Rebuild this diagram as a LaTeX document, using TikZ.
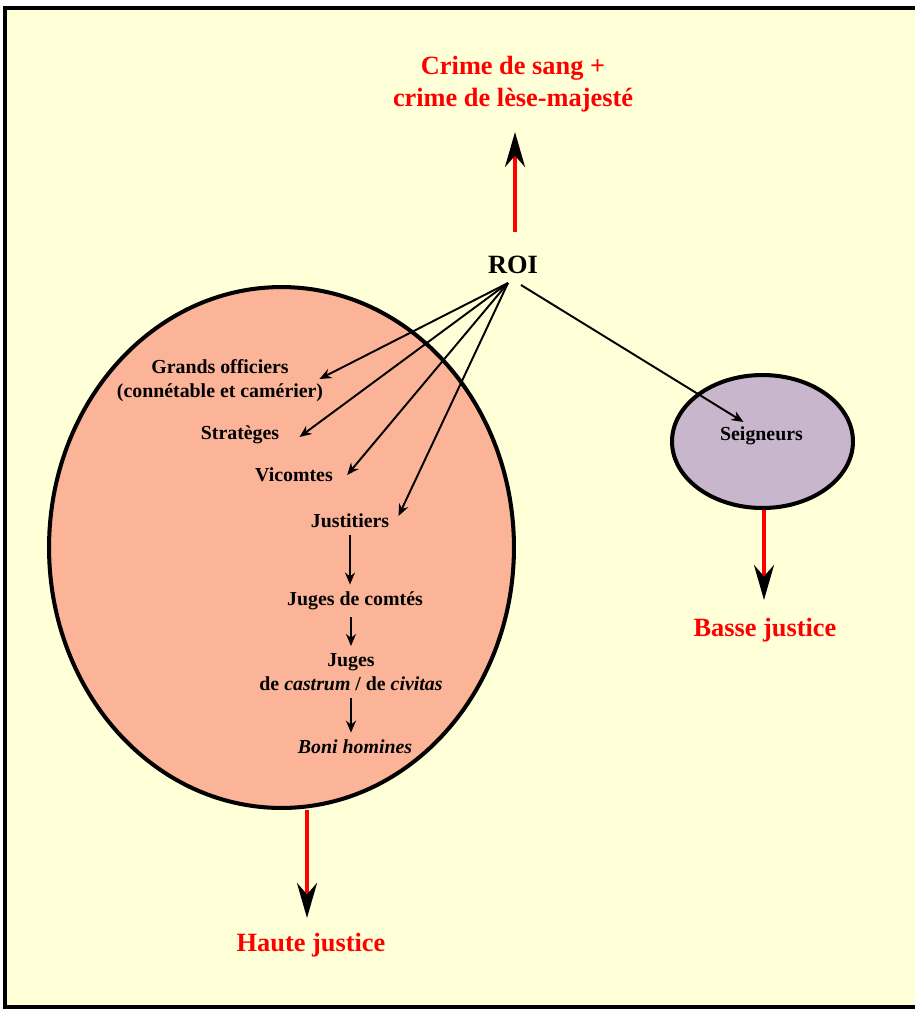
\documentclass[tikz,border=0pt]{standalone}
\usepackage{fontspec}
\setmainfont{Liberation Serif}
\usetikzlibrary{arrows.meta,shapes.geometric}

\definecolor{fond}{RGB}{255,255,216}
\definecolor{saumon}{RGB}{252,180,152}
\definecolor{mauve}{RGB}{200,182,205}

\begin{document}
\begin{tikzpicture}[x=0.02cm,y=-0.02cm,
  petit/.style={font=\fontsize{11.3}{13.7}\selectfont\bfseries,align=center,inner sep=4pt},
  grand/.style={font=\fontsize{15}{18.2}\selectfont\bfseries,align=center},
  fleche/.style={-{Stealth[length=2.4mm,width=2mm]},line width=1.1pt},
  rouge/.style={draw=red,line width=2.3pt,-{Stealth[black,length=7mm,width=4mm]}},
  zone/.style={ellipse,draw,line width=2.3pt,inner sep=0pt}]

% ===== cadre =====
\useasboundingbox (0,0) rectangle (915,1009);
\clip (0,0) rectangle (915,1009);
\draw[line width=2.3pt,fill=fond] (5,8) rectangle (940,1007);

% ===== ellipses =====
\node[zone,fill=saumon,minimum width=9.3cm,minimum height=10.42cm] (haute) at (281.5,547.5) {};
\node[zone,fill=mauve,minimum width=3.62cm,minimum height=2.66cm] (zsg) at (762.5,441.5) {};

% ===== textes =====
\node[grand,text=red] (titre) at (513,84) {Crime de sang +\\crime de lèse-majesté};
\node[grand] (roi) at (513,265) {ROI};
\node[petit] (go) at (220,381) {Grands officiers\\(connétable et camérier)};
\node[petit] (strat) at (240,435) {Stratèges};
\node[petit] (vic) at (294,475) {Vicomtes};
\node[petit] (just) at (350,521) {Justitiers};
\node[petit] (jc) at (355,601) {Juges de comtés};
\node[petit] (juges) at (351,672) {Juges\\de \textit{castrum} / de \textit{civitas}};
\node[petit] (boni) at (355,747) {\textit{Boni homines}};
\node[petit] (sg) at (761.5,436) {Seigneurs};
\node[grand,text=red] (hj) at (311,945) {Haute justice};
\node[grand,text=red] (bj) at (765,630) {Basse justice};

% ===== points d'attache =====
\coordinate (roi-haut) at (515,232);
\coordinate (titre-bas) at (515,132);
\coordinate (roi-g) at (508,283);
\coordinate (roi-d) at (521,285);
\coordinate (hj-pointe) at (307,918);
\coordinate (bj-pointe) at (764,600);

% ===== fleches rouges =====
\draw[rouge] (roi-haut) -- (titre-bas);
\draw[rouge] (hj-pointe |- haute.south) -- (hj-pointe);
\draw[rouge] (bj-pointe |- zsg.south) -- (bj-pointe);

% ===== fleches du roi =====
\draw[fleche] (roi-g) -- ([shift={(-11,-2)}]go.east);
\draw[fleche] (roi-g) -- ([shift={(13,2)}]strat.east);
\draw[fleche] (roi-g) -- ([shift={(7,0)}]vic.east);
\draw[fleche] (roi-g) -- ([shift={(2,-5)}]just.east);
\draw[fleche] (roi-d) -- ([shift={(-18,-14)}]sg.center);

% ===== chaine =====
\draw[fleche] (just.south) -- (just.south |- jc.north);
\draw[fleche] (jc.south -| juges.north) -- (juges.north);
\draw[fleche] (juges.south) -- (juges.south |- boni.north);
\end{tikzpicture}
\end{document}
